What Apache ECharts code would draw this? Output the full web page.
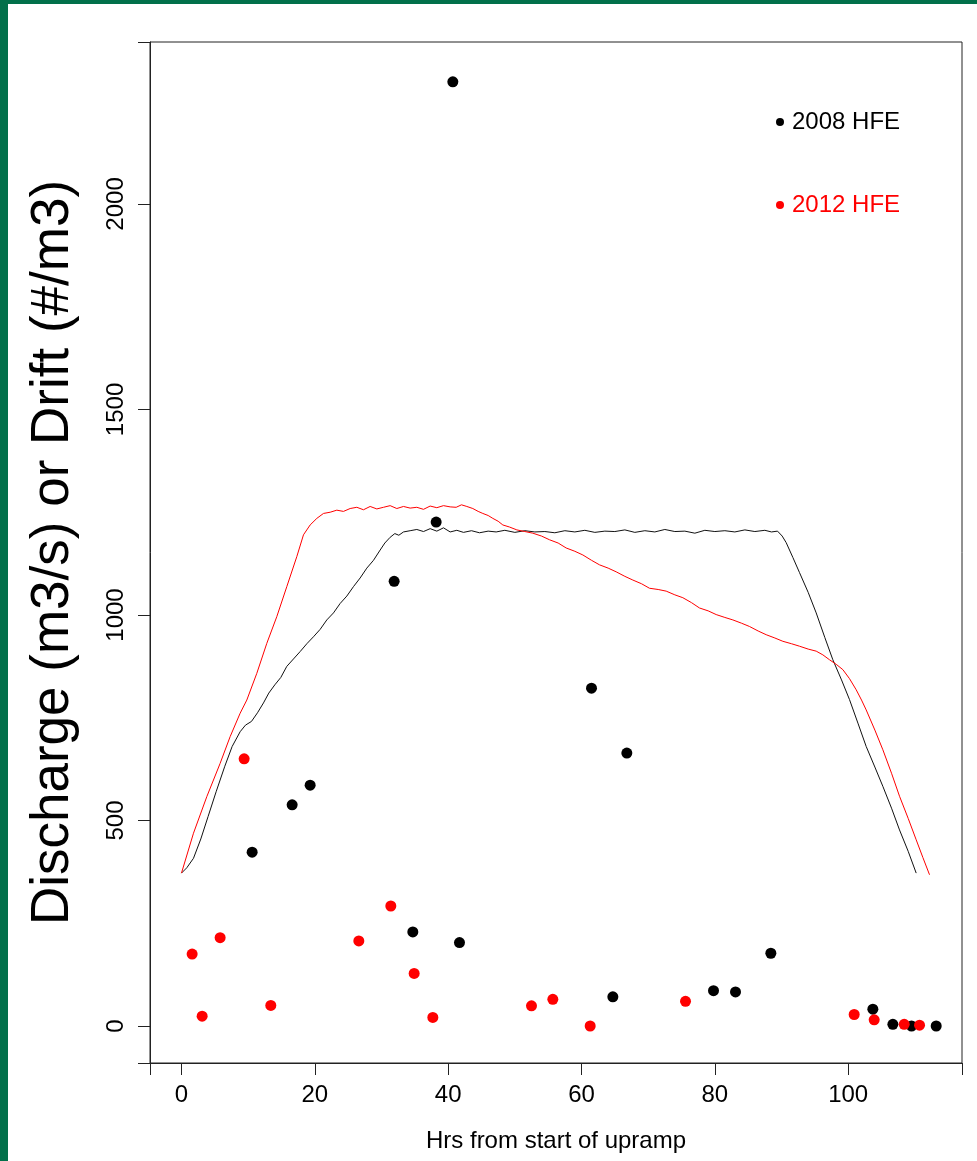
<!DOCTYPE html>
<html>
<head>
<meta charset="utf-8">
<script src="https://cdn.jsdelivr.net/npm/echarts@6/dist/echarts.min.js"></script>
<style>
  html, body { margin: 0; padding: 0; background: #fff; }
  #chart { position: absolute; left: 0; top: 0; width: 977px; height: 1161px; }
  .frameTop { position: absolute; left: 0; top: 0; width: 977px; height: 4px; background: #02704a; z-index: 5; }
  .frameLeft { position: absolute; left: 0; top: 0; width: 8px; height: 1161px; background: #02704a; z-index: 5; }
</style>
</head>
<body>
<div id="chart"></div>
<div class="frameTop"></div>
<div class="frameLeft"></div>
<script>
// ---- data ----
const xTicks = [0, 20, 40, 60, 80, 100];
const yTicks = [0, 500, 1000, 1500, 2000];

const drift2008 = [
  [40.7, 2297], [38.2, 1226], [31.9, 1082], [61.5, 822], [66.8, 664],
  [19.3, 586], [16.6, 538], [10.6, 423], [34.7, 229], [41.7, 203],
  [64.7, 71], [79.8, 86], [83.1, 83], [88.4, 177], [103.7, 41],
  [106.7, 4], [109.5, 0], [113.2, 0]
];

const drift2012 = [
  [1.6, 175], [3.1, 24], [5.8, 215], [9.4, 650], [13.4, 50],
  [26.6, 207], [31.4, 292], [34.9, 128], [37.7, 21], [52.5, 49],
  [55.7, 65], [61.3, 0], [75.6, 60], [100.9, 28], [103.9, 15],
  [108.4, 4], [110.7, 2]
];

const discharge2008 = [
  [0,372],[0.8,385],[1.8,408],[2.9,455],[4.0,510],[5.2,570],[6.5,632],[7.6,680],[8.8,716],[9.6,732],
  [10.5,741],[11.4,762],[12.3,786],[13.1,810],[14.0,830],[14.9,848],[15.8,875],[16.8,893],[17.8,911],
  [18.8,930],[19.8,947],[20.8,965],[21.8,988],[22.8,1005],[23.8,1028],[24.8,1046],[25.8,1069],
  [26.8,1090],[27.8,1114],[28.8,1133],[29.8,1158],[30.5,1175],[31.3,1189],[32.0,1198],[32.6,1194],
  [33.3,1202],[34.3,1205],[35.3,1208],[36.3,1203],[37.3,1210],[38.3,1204],[39.3,1212],[40.3,1202],
  [41.3,1206],[42.3,1201],[43.5,1205],[44.7,1200],[46,1204],[47.2,1202],[48.5,1206],[50,1201],
  [51.5,1205],[53,1202],[54.5,1203],[56,1200],[57.5,1205],[59,1202],[60.5,1206],[62,1201],
  [63.5,1204],[65,1203],[66.5,1207],[68,1201],[69.5,1205],[71,1202],[72.5,1208],[74,1203],
  [75.5,1204],[77,1199],[78.5,1206],[80,1203],[81.5,1205],[83,1202],[84.5,1207],[86,1203],
  [87.5,1206],[88.5,1202],[89.4,1204],[90.1,1192],[90.7,1176],[91.7,1140],[92.7,1103],[94,1055],
  [95.2,1005],[96.5,945],[97.7,891],[99,842],[100.2,794],[101.5,735],[102.7,680],[104,630],
  [105.2,583],[106.5,530],[107.7,477],[109,425],[110.2,372]
];

const discharge2012 = [
  [0,372],[1.8,469],[3.8,558],[5.8,639],[7.3,704],[8.8,761],[9.8,793],[11.3,858],[12.8,931],
  [14.3,996],[15.8,1069],[17.3,1142],[18.3,1195],[19.3,1219],[20.3,1235],[21.3,1247],[22.3,1250],
  [23.3,1255],[24.3,1252],[25.3,1259],[26.3,1262],[27.3,1256],[28.3,1264],[29.3,1258],[30.3,1262],
  [31.3,1266],[32.3,1259],[33.3,1264],[34.3,1260],[35.3,1262],[36.3,1257],[37.3,1265],[38.3,1261],
  [39.3,1266],[40.3,1263],[41.2,1262],[42.0,1268],[42.8,1264],[43.7,1259],[44.5,1252],[45.2,1247],
  [46.0,1242],[46.7,1235],[47.5,1228],[48.2,1219],[49.2,1214],[50.3,1207],[51.5,1203],[52.7,1199],
  [54,1192],[55.2,1183],[56.5,1175],[57.7,1163],[59,1155],[60.2,1146],[61.5,1133],[62.7,1122],
  [64,1114],[65.2,1105],[66.5,1094],[67.7,1085],[69,1076],[70.2,1065],[71.5,1062],[72.7,1058],
  [74,1049],[75.2,1042],[76.5,1030],[77.7,1017],[79,1010],[80.2,1001],[81.5,994],[82.7,988],
  [84,980],[85.2,972],[86.5,961],[87.7,952],[89,944],[90.2,936],[91.5,930],[92.7,924],[94,917],
  [95.2,912],[96.2,903],[97.2,891],[98.2,880],[99.2,867],[100.2,845],[101.2,818],[102,793],
  [102.7,769],[104,720],[105.2,672],[106.5,615],[107.7,559],[109,505],[110.2,453],[111.2,410],
  [112.2,368]
];

// ---- chart ----
const FONT = '"Liberation Sans", Arial, Helvetica, sans-serif';
const chart = echarts.init(document.getElementById('chart'), null, { renderer: 'canvas' });

const legendBase = {
  orient: 'vertical',
  left: 776,
  icon: 'circle',
  itemWidth: 14,
  itemHeight: 8,
  padding: 0,
  selectedMode: false,
  textStyle: { fontSize: 24, fontFamily: FONT }
};

chart.setOption({
  animation: false,
  backgroundColor: '#fff',
  textStyle: { fontFamily: FONT },
  grid: {
    left: 150, right: 15, top: 42, bottom: 98,
    show: true, borderColor: '#222', borderWidth: 1, backgroundColor: 'transparent'
  },
  legend: [
    Object.assign({}, legendBase, {
      top: 110,
      data: [{ name: '2008 HFE', textStyle: { color: '#000' } }]
    }),
    Object.assign({}, legendBase, {
      top: 193,
      data: [{ name: '2012 HFE', textStyle: { color: '#ff0000' } }]
    })
  ],
  xAxis: {
    type: 'value',
    min: -4.72,
    max: 117.07,
    splitNumber: 6,
    name: 'Hrs from start of upramp',
    nameLocation: 'middle',
    nameGap: 66,
    nameTextStyle: { fontSize: 24, color: '#000', fontFamily: FONT },
    axisLine: { show: true, onZero: false, lineStyle: { color: '#222', width: 1 } },
    splitLine: { show: false },
    axisTick: { show: true, length: 12, lineStyle: { color: '#222', width: 1 } },
    axisLabel: { fontSize: 24, color: '#000', margin: 20, fontFamily: FONT, customValues: xTicks,
                 formatter: v => String(v) }
  },
  yAxis: {
    type: 'value',
    min: -90,
    max: 2394,
    splitNumber: 5,
    name: 'Discharge (m3/s) or Drift (#/m3)',
    nameLocation: 'middle',
    nameRotate: 90,
    nameGap: 70,
    nameTextStyle: { fontSize: 53, color: '#000', fontFamily: FONT },
    axisLine: { show: true, onZero: false, lineStyle: { color: '#222', width: 1 } },
    splitLine: { show: false },
    axisTick: { show: true, length: 12, lineStyle: { color: '#222', width: 1 } },
    axisLabel: { fontSize: 24, color: '#000', rotate: 90, margin: 22, fontFamily: FONT, customValues: yTicks,
                 formatter: v => String(v) }
  },
  series: [
    {
      name: '2008 discharge', type: 'line', data: discharge2008,
      showSymbol: false, symbol: 'none', silent: true,
      lineStyle: { color: '#111', width: 1 }, z: 2
    },
    {
      name: '2012 discharge', type: 'line', data: discharge2012,
      showSymbol: false, symbol: 'none', silent: true,
      lineStyle: { color: '#ff0000', width: 1 }, z: 2
    },
    {
      name: '2008 HFE', type: 'scatter', data: drift2008,
      symbol: 'circle', symbolSize: 11,
      itemStyle: { color: '#000', opacity: 1 }, z: 3
    },
    {
      name: '2012 HFE', type: 'scatter', data: drift2012,
      symbol: 'circle', symbolSize: 11,
      itemStyle: { color: '#ff0000', opacity: 1 }, z: 3
    }
  ]
});
</script>
</body>
</html>
